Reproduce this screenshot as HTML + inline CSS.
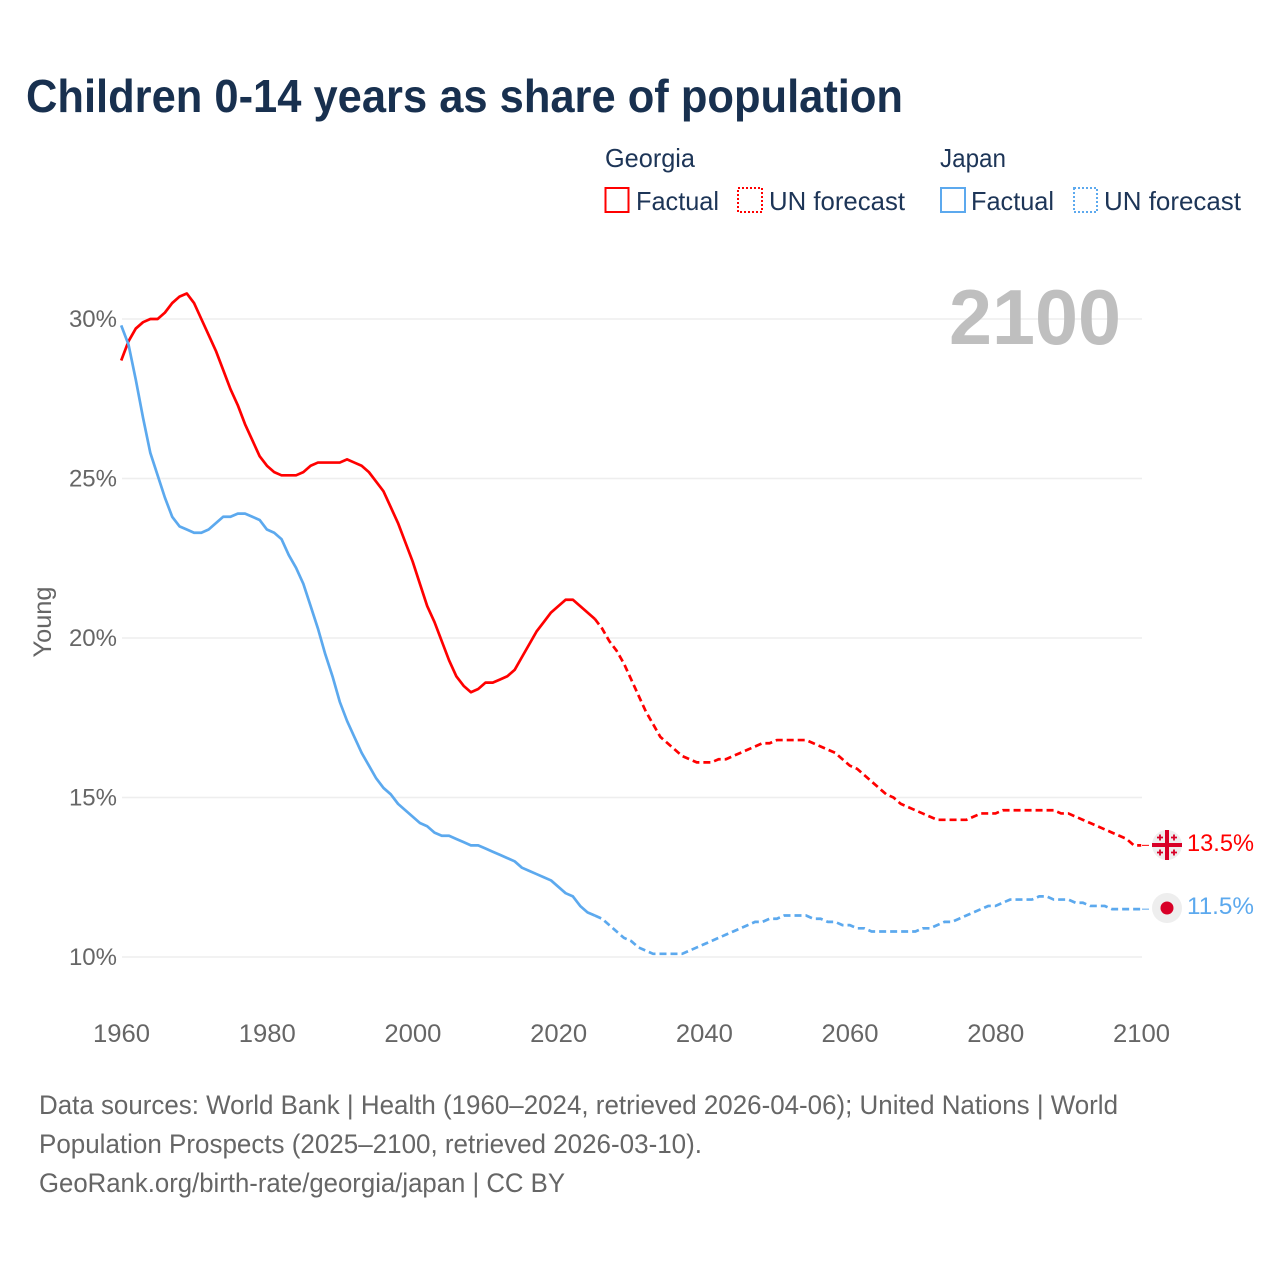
<!DOCTYPE html>
<html lang="en">
<head>
<meta charset="utf-8">
<title>Children 0-14 years as share of population</title>
<style>
html,body{margin:0;padding:0;background:#fff;width:1280px;height:1280px;overflow:hidden}
svg{display:block;font-family:"Liberation Sans",sans-serif}
</style>
</head>
<body>
<svg id="chart" xmlns="http://www.w3.org/2000/svg" width="1280" height="1280" viewBox="0 0 1280 1280">
  <rect width="1280" height="1280" fill="#fff"/>
  <text x="26" y="112" font-size="46" font-weight="700" fill="#18304f" textLength="877" lengthAdjust="spacingAndGlyphs">Children 0-14 years as share of population</text>

  <g font-size="26" fill="#1d3557">
    <text x="605" y="167" textLength="90" lengthAdjust="spacingAndGlyphs">Georgia</text>
    <text x="940" y="167" textLength="66" lengthAdjust="spacingAndGlyphs">Japan</text>
    <rect x="605.5" y="188" width="23" height="24" fill="none" stroke="#ff0000" stroke-width="2"/>
    <text x="636" y="210" textLength="83" lengthAdjust="spacingAndGlyphs">Factual</text>
    <rect x="738" y="188" width="24" height="24" fill="none" stroke="#ff0000" stroke-width="2" stroke-dasharray="2 2"/>
    <text x="769" y="210" textLength="136" lengthAdjust="spacingAndGlyphs">UN forecast</text>
    <rect x="941" y="188" width="24" height="24" fill="none" stroke="#5ca9ee" stroke-width="2"/>
    <text x="971" y="210" textLength="83" lengthAdjust="spacingAndGlyphs">Factual</text>
    <rect x="1074" y="188" width="23" height="24" fill="none" stroke="#5ca9ee" stroke-width="2" stroke-dasharray="2 2"/>
    <text x="1104" y="210" textLength="137" lengthAdjust="spacingAndGlyphs">UN forecast</text>
  </g>

  <g id="grid"></g>
  <g id="yticks"></g>
  <g id="xticks"></g>

  <text transform="translate(51 622) rotate(-90)" text-anchor="middle" font-size="25" fill="#666" textLength="71" lengthAdjust="spacingAndGlyphs">Young</text>
  <text x="949" y="344" font-size="78" font-weight="700" fill="#bfbfbf" textLength="172" lengthAdjust="spacingAndGlyphs">2100</text>

  <g id="series"></g>

  <g>
    <circle cx="1167" cy="845" r="15" fill="#eeeeee"/>
    <path fill="#d80027" d="M1165 830h4v13H1182v4h-13v13h-4v-13H1152v-4h13z"/>
    <path stroke="#d80027" stroke-width="1.800" fill="none" d="M1160 834.500v6M1157 837.500h6M1174 834.500v6M1171 837.500h6M1160 849.500v6M1157 852.500h6M1174 849.500v6M1171 852.500h6"/>
  </g>
  <g>
    <circle cx="1167" cy="908" r="15" fill="#eeeeee"/>
    <circle cx="1167" cy="908" r="6.500" fill="#d80027"/>
  </g>
  <text x="1187" y="851" font-size="24.500" fill="#ff0000" textLength="67" lengthAdjust="spacingAndGlyphs">13.5%</text>
  <text x="1187" y="914" font-size="24.500" fill="#5ca9ee" textLength="67" lengthAdjust="spacingAndGlyphs">11.5%</text>

  <g font-size="26.500" fill="#666">
    <text x="39" y="1114" textLength="1079" lengthAdjust="spacingAndGlyphs">Data sources: World Bank | Health (1960–2024, retrieved 2026-04-06); United Nations | World</text>
    <text x="39" y="1153" textLength="663" lengthAdjust="spacingAndGlyphs">Population Prospects (2025–2100, retrieved 2026-03-10).</text>
    <text x="39" y="1192" textLength="526" lengthAdjust="spacingAndGlyphs">GeoRank.org/birth-rate/georgia/japan | CC BY</text>
  </g>
</svg>
<script>
const startYear = 1960;
const lastFactualYear = 2025;
const xTickYears = [1960, 1980, 2000, 2020, 2040, 2060, 2080, 2100];
const yTickValues = [10, 15, 20, 25, 30];
const yTickLabels = ['10%', '15%', '20%', '25%', '30%'];
const georgiaValues = [
  28.7,29.3,29.7,29.9,30.0,30.0,30.2,30.5,30.7,30.8,
  30.5,30.0,29.5,29.0,28.4,27.8,27.3,26.7,26.2,25.7,
  25.4,25.2,25.1,25.1,25.1,25.2,25.4,25.5,25.5,25.5,
  25.5,25.6,25.5,25.4,25.2,24.9,24.6,24.1,23.6,23.0,
  22.4,21.7,21.0,20.5,19.9,19.3,18.8,18.5,18.3,18.4,
  18.6,18.6,18.7,18.8,19.0,19.4,19.8,20.2,20.5,20.8,
  21.0,21.2,21.2,21.0,20.8,20.6,20.3,19.9,19.6,19.2,
  18.7,18.2,17.7,17.3,16.9,16.7,16.5,16.3,16.2,16.1,
  16.1,16.1,16.2,16.2,16.3,16.4,16.5,16.6,16.7,16.7,
  16.8,16.8,16.8,16.8,16.8,16.7,16.6,16.5,16.4,16.2,
  16.0,15.9,15.7,15.5,15.3,15.1,15.0,14.8,14.7,14.6,
  14.5,14.4,14.3,14.3,14.3,14.3,14.3,14.4,14.5,14.5,
  14.5,14.6,14.6,14.6,14.6,14.6,14.6,14.6,14.6,14.5,
  14.5,14.4,14.3,14.2,14.1,14.0,13.9,13.8,13.7,13.5,13.5
];
const japanValues = [
  29.8,29.2,28.1,26.9,25.8,25.1,24.4,23.8,23.5,23.4,
  23.3,23.3,23.4,23.6,23.8,23.8,23.9,23.9,23.8,23.7,
  23.4,23.3,23.1,22.6,22.2,21.7,21.0,20.3,19.5,18.8,
  18.0,17.4,16.9,16.4,16.0,15.6,15.3,15.1,14.8,14.6,
  14.4,14.2,14.1,13.9,13.8,13.8,13.7,13.6,13.5,13.5,
  13.4,13.3,13.2,13.1,13.0,12.8,12.7,12.6,12.5,12.4,
  12.2,12.0,11.9,11.6,11.4,11.3,11.2,11.0,10.8,10.6,
  10.5,10.3,10.2,10.1,10.1,10.1,10.1,10.1,10.2,10.3,
  10.4,10.5,10.6,10.7,10.8,10.9,11.0,11.1,11.1,11.2,
  11.2,11.3,11.3,11.3,11.3,11.2,11.2,11.1,11.1,11.0,
  11.0,10.9,10.9,10.8,10.8,10.8,10.8,10.8,10.8,10.8,
  10.9,10.9,11.0,11.1,11.1,11.2,11.3,11.4,11.5,11.6,
  11.6,11.7,11.8,11.8,11.8,11.8,11.9,11.9,11.8,11.8,
  11.8,11.7,11.7,11.6,11.6,11.6,11.5,11.5,11.5,11.5,11.5
];

const NS = 'http://www.w3.org/2000/svg';
function xScale(year) { return 122 + (year - 1960) * (1020 / 140); }
function yScale(value) { return 957 - (value - 10) * 31.9; }
function pathFor(values, fromYear, toYear) {
  let d = '';
  for (let year = fromYear; year <= toYear; year++) {
    const v = values[year - startYear];
    d += (d ? 'L' : 'M') + (xScale(year) - 0.8).toFixed(2) + ' ' + yScale(v).toFixed(2);
  }
  return d;
}

const grid = document.getElementById('grid');
const yticks = document.getElementById('yticks');
const xticks = document.getElementById('xticks');
const series = document.getElementById('series');

yTickValues.forEach(function (value, i) {
  const line = document.createElementNS(NS, 'line');
  
  
  line.setAttribute('x1', xScale(1960));
  line.setAttribute('x2', xScale(2100));
  line.setAttribute('y1', yScale(value));
  line.setAttribute('y2', yScale(value));
  line.setAttribute('stroke', '#eeeeee');
  line.setAttribute('stroke-width', '1.500');
  grid.appendChild(line);

  const label = document.createElementNS(NS, 'text');
  
  
  label.setAttribute('x', 117);
  label.setAttribute('y', yScale(value) + 8);
  label.setAttribute('text-anchor', 'end');
  label.setAttribute('font-size', '24');
  label.setAttribute('fill', '#666');
  label.textContent = yTickLabels[i];
  yticks.appendChild(label);
});

xTickYears.forEach(function (year) {
  const label = document.createElementNS(NS, 'text');
  
  
  label.setAttribute('x', xScale(year) - 0.5);
  label.setAttribute('y', 1042);
  label.setAttribute('text-anchor', 'middle');
  label.setAttribute('font-size', '25');
  label.setAttribute('fill', '#666');
  label.setAttribute('textLength', '57');
  label.setAttribute('lengthAdjust', 'spacingAndGlyphs');
  label.textContent = year;
  xticks.appendChild(label);
});

function drawSeries(values, color, name) {
  const lastYear = startYear + values.length - 1;

  const solid = document.createElementNS(NS, 'path');
  
  
  solid.setAttribute('d', pathFor(values, startYear, lastFactualYear));
  solid.setAttribute('fill', 'none');
  solid.setAttribute('stroke', color);
  solid.setAttribute('stroke-width', '2.700');
  solid.setAttribute('stroke-linejoin', 'round');
  series.appendChild(solid);

  const dashed = document.createElementNS(NS, 'path');
  
  
  dashed.setAttribute('d', pathFor(values, lastFactualYear, lastYear));
  dashed.setAttribute('fill', 'none');
  dashed.setAttribute('stroke', color);
  dashed.setAttribute('stroke-width', '2.700');
  dashed.setAttribute('stroke-dasharray', '7 4');
  series.appendChild(dashed);

  const connector = document.createElementNS(NS, 'line');
  
  
  connector.setAttribute('x1', xScale(lastYear));
  connector.setAttribute('x2', xScale(lastYear) + 8);
  connector.setAttribute('y1', yScale(values[values.length - 1]));
  connector.setAttribute('y2', yScale(values[values.length - 1]));
  connector.setAttribute('stroke', color);
  connector.setAttribute('stroke-width', '1');
  connector.setAttribute('stroke-dasharray', '7 2');
  series.appendChild(connector);
}

drawSeries(georgiaValues, '#ff0000', 'georgia');
drawSeries(japanValues, '#5ca9ee', 'japan');
</script>
</body>
</html>
